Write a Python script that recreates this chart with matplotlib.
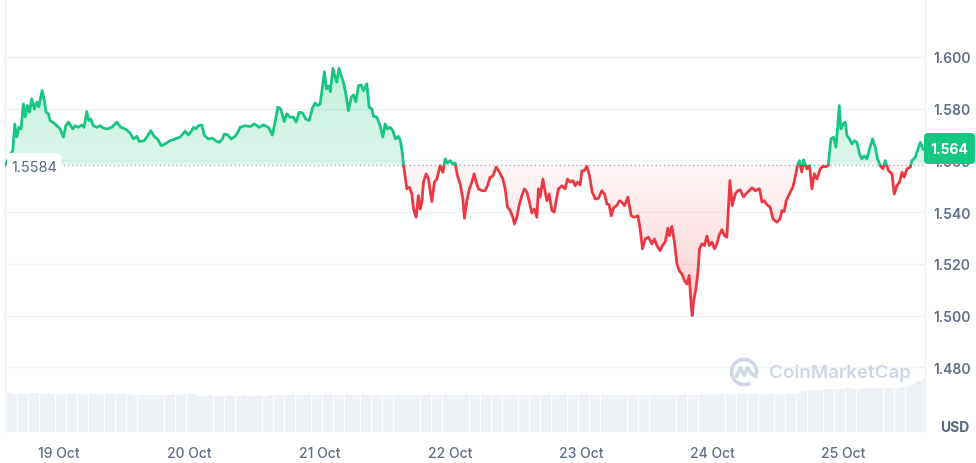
import matplotlib
import matplotlib.pyplot as plt
import numpy as np
from matplotlib.colors import to_rgb
from matplotlib.patches import Rectangle, FancyBboxPatch, Arc
from matplotlib.path import Path

plt.rcParams['font.family'] = ['Inter', 'DejaVu Sans']

# hours since 19 Oct 00:00
hours = [
    -9.79, -8.37, -8.01, -7.64, -7.22, -6.85, -6.43, -6.06, -5.69, -5.32,
    -4.88, -4.41, -3.97, -3.60, -2.99, -2.57, -2.26, -1.84, -1.52, -0.61,
    0.31, 0.92, 1.36, 1.84, 2.28, 2.64, 3.07, 3.67, 4.30, 4.72,
    5.21, 5.58, 5.95, 6.43, 7.05, 7.66, 8.39, 9.00, 9.81, 10.72,
    11.46, 12.25, 13.17, 13.77, 14.40, 14.87, 15.74, 16.23, 16.97, 17.57,
    18.18, 18.91, 19.59, 20.51, 21.43, 22.35, 23.26, 23.87, 24.49, 24.79,
    25.23, 25.71, 26.33, 26.81, 27.54, 28.28, 29.09, 29.56, 30.11, 30.48,
    31.11, 31.71, 32.45, 32.94, 33.36, 34.28, 35.20, 35.99, 36.85, 37.64,
    38.56, 39.29, 39.79, 40.29, 40.84, 41.44, 41.94, 42.54, 43.15, 43.65,
    44.20, 44.80, 45.43, 46.03, 46.64, 47.13, 47.63, 48.05, 48.48, 48.84,
    49.21, 49.58, 49.94, 50.39, 50.81, 51.12, 51.49, 51.91, 52.41, 52.77,
    53.25, 53.75, 54.17, 54.61, 55.09, 55.58, 56.00, 56.63, 57.05, 57.55,
    57.84, 58.46, 59.07, 59.57, 59.99, 60.41, 60.91, 61.40, 61.88, 62.38,
    62.74, 63.05, 63.35, 63.97, 64.45, 64.89, 65.19, 65.68, 66.10, 66.42,
    66.73, 67.02, 67.52, 67.94, 68.56, 69.04, 69.48, 70.09, 70.59, 71.01,
    71.43, 71.92, 72.42, 72.84, 73.26, 73.76, 74.26, 74.55, 74.99, 75.47,
    75.91, 76.33, 76.70, 77.12, 77.75, 78.35, 78.77, 79.27, 79.76, 80.37,
    80.98, 81.60, 82.02, 82.45, 82.94, 83.44, 83.73, 84.17, 84.65, 85.09,
    85.57, 86.01, 86.48, 86.92, 87.35, 87.84, 88.14, 88.45, 88.94, 89.37,
    89.68, 90.10, 90.60, 91.02, 91.39, 91.81, 92.43, 93.04, 93.46, 93.96,
    94.45, 94.88, 95.30, 95.79, 96.11, 96.53, 97.03, 97.50, 98.00, 98.55,
    99.16, 99.78, 100.26, 100.70, 101.12, 101.49, 101.91, 102.50, 103.01, 103.45,
    103.93, 104.55, 105.16, 105.76, 106.39, 106.81, 107.23, 107.73, 108.34, 108.96,
    109.44, 109.88, 110.48, 110.91, 111.40, 111.90, 112.19, 112.63, 113.11, 113.55,
    113.97, 114.47, 114.95, 115.39, 115.81, 116.18, 116.36, 116.60, 117.04, 117.41,
    117.70, 118.14, 118.62, 119.06, 119.48, 119.98, 120.46, 120.90, 121.32, 121.82,
    122.29, 122.73, 123.03, 123.28, 123.71, 124.26, 124.75, 125.17, 125.78, 126.40,
    127.32, 127.93, 128.72, 129.16, 129.58, 130.08, 130.68, 131.18, 131.91, 132.52,
    132.83, 133.25, 133.62, 134.36, 134.85, 135.27, 135.70, 136.06, 136.47, 136.80,
    137.39, 137.90, 138.34, 138.77, 139.26, 139.87, 140.36, 140.78, 141.33, 141.83,
    142.31, 142.75, 143.04, 143.35, 143.66, 144.03, 144.45, 144.77, 145.24, 145.68,
    146.16, 146.60, 147.08, 147.52, 147.94, 148.44, 148.92, 149.47, 149.96, 150.39,
    150.88, 151.38, 151.80, 152.41, 153.03, 153.46, 153.95, 154.43, 154.87, 155.29,
    155.79, 156.39, 156.70, 157.31, 157.62, 158.23, 158.73, 158.96,
]

prices = [
    1.5582, 1.5638, 1.5741, 1.5691, 1.5729, 1.5722, 1.5818, 1.5768, 1.5812, 1.5787,
    1.5838, 1.5799, 1.5826, 1.5807, 1.5870, 1.5831, 1.5787, 1.5780, 1.5754, 1.5741,
    1.5722, 1.5690, 1.5734, 1.5748, 1.5734, 1.5722, 1.5734, 1.5728, 1.5737, 1.5728,
    1.5789, 1.5754, 1.5760, 1.5734, 1.5728, 1.5734, 1.5724, 1.5722, 1.5728, 1.5748,
    1.5728, 1.5722, 1.5706, 1.5683, 1.5693, 1.5673, 1.5676, 1.5690, 1.5715, 1.5693,
    1.5683, 1.5657, 1.5664, 1.5676, 1.5683, 1.5690, 1.5713, 1.5698, 1.5715, 1.5728,
    1.5722, 1.5734, 1.5737, 1.5696, 1.5683, 1.5686, 1.5673, 1.5670, 1.5683, 1.5702,
    1.5698, 1.5683, 1.5693, 1.5709, 1.5728, 1.5734, 1.5731, 1.5741, 1.5728, 1.5737,
    1.5728, 1.5698, 1.5748, 1.5806, 1.5799, 1.5750, 1.5780, 1.5767, 1.5767, 1.5748,
    1.5786, 1.5784, 1.5760, 1.5754, 1.5802, 1.5822, 1.5812, 1.5818, 1.5883, 1.5943,
    1.5876, 1.5887, 1.5866, 1.5956, 1.5922, 1.5902, 1.5956, 1.5928, 1.5896, 1.5857,
    1.5792, 1.5844, 1.5853, 1.5827, 1.5889, 1.5892, 1.5870, 1.5896, 1.5806, 1.5799,
    1.5771, 1.5767, 1.5734, 1.5690, 1.5741, 1.5722, 1.5728, 1.5715, 1.5683, 1.5693,
    1.5680, 1.5644, 1.5586, 1.5490, 1.5496, 1.5470, 1.5412, 1.5380, 1.5464, 1.5412,
    1.5438, 1.5516, 1.5548, 1.5528, 1.5441, 1.5516, 1.5528, 1.5580, 1.5554, 1.5606,
    1.5590, 1.5599, 1.5586, 1.5590, 1.5541, 1.5509, 1.5451, 1.5376, 1.5444, 1.5490,
    1.5516, 1.5548, 1.5516, 1.5490, 1.5483, 1.5483, 1.5502, 1.5535, 1.5539, 1.5574,
    1.5554, 1.5528, 1.5490, 1.5419, 1.5406, 1.5380, 1.5354, 1.5380, 1.5432, 1.5464,
    1.5490, 1.5477, 1.5438, 1.5397, 1.5412, 1.5380, 1.5490, 1.5458, 1.5528, 1.5477,
    1.5444, 1.5470, 1.5406, 1.5400, 1.5444, 1.5490, 1.5502, 1.5490, 1.5528, 1.5516,
    1.5522, 1.5502, 1.5516, 1.5505, 1.5560, 1.5560, 1.5577, 1.5541, 1.5478, 1.5451,
    1.5454, 1.5483, 1.5470, 1.5432, 1.5428, 1.5386, 1.5416, 1.5425, 1.5444, 1.5438,
    1.5425, 1.5458, 1.5386, 1.5380, 1.5386, 1.5335, 1.5258, 1.5296, 1.5303, 1.5277,
    1.5296, 1.5271, 1.5251, 1.5271, 1.5284, 1.5338, 1.5309, 1.5345, 1.5284, 1.5200,
    1.5174, 1.5161, 1.5135, 1.5122, 1.5155, 1.5038, 1.5000, 1.5052, 1.5103, 1.5168,
    1.5258, 1.5277, 1.5271, 1.5307, 1.5271, 1.5284, 1.5258, 1.5277, 1.5312, 1.5332,
    1.5309, 1.5303, 1.5419, 1.5522, 1.5425, 1.5470, 1.5483, 1.5486, 1.5459, 1.5474,
    1.5494, 1.5483, 1.5490, 1.5439, 1.5444, 1.5428, 1.5419, 1.5374, 1.5361, 1.5376,
    1.5406, 1.5402, 1.5444, 1.5477, 1.5497, 1.5535, 1.5582, 1.5599, 1.5555, 1.5602,
    1.5567, 1.5580, 1.5490, 1.5548, 1.5528, 1.5567, 1.5578, 1.5575, 1.5580, 1.5683,
    1.5690, 1.5651, 1.5722, 1.5812, 1.5722, 1.5741, 1.5748, 1.5696, 1.5683, 1.5664,
    1.5676, 1.5670, 1.5625, 1.5606, 1.5618, 1.5606, 1.5644, 1.5683, 1.5651, 1.5606,
    1.5580, 1.5567, 1.5599, 1.5560, 1.5548, 1.5470, 1.5502, 1.5516, 1.5554, 1.5535,
    1.5567, 1.5574, 1.5599, 1.5612, 1.5632, 1.5670, 1.5644, 1.5641,
]

open_price = 1.5584
last_price = 1.564

# hourly volume (relative), hour -10 .. 159
vol_start_hour = -10
volumes = [
    38.5, 38.6, 38.4, 38.7, 38.5, 38.6, 38.8, 38.5, 38.6, 38.4,
    38.5, 38.3, 38.6, 38.4, 38.2, 38.5, 38.3, 38.1, 38.2, 38.0, 38.3, 38.1, 37.9, 38.0,
    37.2, 37.0, 37.1, 36.9, 37.0, 37.2, 36.9, 37.0, 37.1,
    38.0, 38.2, 37.9,
    36.5, 36.4, 36.6, 36.5, 36.3, 36.6, 36.4, 36.5, 36.7, 36.4, 36.5, 36.6, 36.4,
    37.2, 37.4, 37.1, 37.5, 37.3, 37.2, 37.4, 37.1, 37.3, 37.5, 37.2, 37.4, 37.3,
    37.1, 37.2, 37.4, 37.3, 37.2, 37.5, 37.3, 37.1, 37.2, 37.4, 37.3, 37.2,
    37.0, 37.1, 36.9, 37.2, 37.0, 36.8, 37.1, 37.0, 36.9, 37.2, 37.1, 37.0, 36.8, 37.0,
    37.1, 36.9, 37.0, 37.2, 37.1, 36.9, 37.0, 37.1, 37.3, 37.0, 36.9, 37.1, 37.2, 37.0,
    37.1, 37.0, 36.8, 37.0, 37.2, 37.1, 36.9, 37.0, 37.1, 37.2, 37.0, 36.9, 37.1, 37.0,
    37.2, 37.3, 37.1, 37.0, 37.2, 37.4, 37.3, 37.1, 37.2, 37.4, 37.5, 37.3, 37.4, 37.6,
    38.0, 38.1, 37.9, 38.2, 38.0, 38.1, 38.3, 38.0, 38.2, 38.1, 38.3, 38.2, 38.4, 38.2,
    38.5, 38.4, 38.6,
    41.3, 41.5, 41.6, 41.8,
    43.2, 43.4, 43.3, 43.5, 43.6, 43.4, 43.5, 43.7, 43.6, 43.8, 43.7, 43.9, 44.0, 44.2,
    44.8, 46.0, 48.0, 51.0, 54.0, 57.0, 60.0,
]

day_ticks = [0, 24, 48, 72, 96, 120, 144]
day_labels = ['19 Oct', '20 Oct', '21 Oct', '22 Oct', '23 Oct', '24 Oct', '25 Oct']
price_ticks = [1.48, 1.50, 1.52, 1.54, 1.56, 1.58, 1.60]

GREEN = '#16c784'
RED = '#ea3943'
TEXT = '#616e85'
GRID = '#eff2f5'

X_MIN, X_MAX = -9.8, 159.1
Y_MIN, Y_MAX = 1.4550, 1.6224
AX_RECT = [5 / 976, 31 / 464, 920 / 976, 433 / 464]


def gradient_fill(ax, x, y, base, color, above, a_near, a_far):
    x = np.asarray(x)
    y = np.asarray(y)
    where = y >= base if above else y <= base
    poly = ax.fill_between(x, y, base, where=where, interpolate=True,
                           facecolor='none', edgecolor='none')
    clip = Path.make_compound_path(*poly.get_paths())
    rgba = np.zeros((200, 1, 4))
    rgba[..., :3] = to_rgb(color)
    ramp = np.linspace(0, 1, 200)
    if above:
        rgba[:, 0, 3] = a_near + (a_far - a_near) * ramp
        extent = [x.min(), x.max(), base, y.max()]
    else:
        rgba[:, 0, 3] = a_far + (a_near - a_far) * ramp
        extent = [x.min(), x.max(), y.min(), base]
    im = ax.imshow(rgba, extent=extent, origin='lower', aspect='auto',
                   interpolation='bilinear', zorder=1)
    im.set_clip_path(clip, transform=ax.transData)


def draw_logo(fig):
    lax = fig.add_axes([728 / 976, 1 - 388 / 464, 32 / 976, 30 / 464])
    lax.set_xlim(-1.2, 1.2)
    lax.set_ylim(-1.2, 1.2)
    lax.set_aspect('equal')
    lax.axis('off')
    c = '#cfd6e4'
    lax.add_patch(Arc((0, 0), 2, 2, theta1=-10, theta2=300, lw=2.6, color=c))
    lax.plot([-0.6, -0.3, 0.0, 0.3, 0.55, 0.95], [-0.35, 0.35, -0.25, 0.35, -0.1, -0.35],
             color=c, lw=2.6, solid_joinstyle='round', solid_capstyle='round')


fig = plt.figure(figsize=(9.76, 4.64), dpi=100)

# volume behind the price
ax_vol = fig.add_axes(AX_RECT)
vol_hours = [vol_start_hour + i for i in range(len(volumes))]
ax_vol.bar(vol_hours, volumes, width=0.93, color='#eef1f5', linewidth=0)
ax_vol.set_xlim(X_MIN, X_MAX)
ax_vol.set_ylim(0, max(volumes) * 7.22)
ax_vol.axis('off')

ax = fig.add_axes(AX_RECT)
ax.patch.set_alpha(0)

gradient_fill(ax, hours, prices, open_price, GREEN, True, 0.14, 0.27)
gradient_fill(ax, hours, prices, open_price, RED, False, 0.04, 0.25)

ax.axhline(open_price, color='#a6b0c3', lw=1.0, ls=(0, (1, 2)), zorder=2)

up, = ax.plot(hours, prices, color=GREEN, lw=2.0, zorder=3, solid_joinstyle='round')
up.set_clip_path(Rectangle((X_MIN, open_price), X_MAX - X_MIN, 1, transform=ax.transData))
down, = ax.plot(hours, prices, color=RED, lw=2.0, zorder=3, solid_joinstyle='round')
down.set_clip_path(Rectangle((X_MIN, open_price - 1), X_MAX - X_MIN, 1, transform=ax.transData))

ax.set_xlim(X_MIN, X_MAX)
ax.set_ylim(Y_MIN, Y_MAX)

ax.set_yticks(price_ticks)
ax.set_yticklabels([f'{p:.3f}' for p in price_ticks])
ax.yaxis.tick_right()
ax.set_xticks(day_ticks)
ax.set_xticklabels(day_labels)
ax.tick_params(axis='y', length=0, pad=6, labelsize=10, labelcolor=TEXT)
ax.tick_params(axis='x', length=0, pad=10, labelsize=10, labelcolor=TEXT)
for lab in ax.get_yticklabels():
    lab.set_fontweight('semibold')
for lab in ax.get_xticklabels():
    lab.set_fontweight('medium')

ax.grid(axis='y', color=GRID, lw=1.0)
ax.set_axisbelow(True)
for side in ['top', 'bottom']:
    ax.spines[side].set_visible(False)
for side in ['left', 'right']:
    ax.spines[side].set_color(GRID)
    ax.spines[side].set_linewidth(1.0)

# open price label on the left
fig.patches.append(FancyBboxPatch((0.07, 4.64 - 1.82), 0.54, 0.28,
                                  boxstyle='round,pad=0,rounding_size=0.05',
                                  transform=fig.dpi_scale_trans, facecolor='white',
                                  edgecolor='none', zorder=5))
fig.text(0.34, 4.64 - 1.68, f'{open_price:.4f}', transform=fig.dpi_scale_trans,
         ha='center', va='center', fontsize=10.5, color='#58667e', zorder=6)

# last price tag on the right
fig.patches.append(FancyBboxPatch((9.24, 4.64 - 1.65), 0.51, 0.31,
                                  boxstyle='round,pad=0,rounding_size=0.04',
                                  transform=fig.dpi_scale_trans, facecolor=GREEN,
                                  edgecolor='none', zorder=5))
fig.text(9.495, 4.64 - 1.497, f'{last_price:.3f}', transform=fig.dpi_scale_trans,
         ha='center', va='center', fontsize=10, fontweight='bold', color='white', zorder=6)

fig.text(9.55, 4.64 - 4.28, 'USD', transform=fig.dpi_scale_trans,
         ha='center', va='center', fontsize=10, fontweight='bold', color='#58667e')

# watermark
fig.text(7.69, 4.64 - 3.735, 'CoinMarketCap', transform=fig.dpi_scale_trans,
         ha='left', va='center', fontsize=13.5, fontweight='semibold', color='#cfd6e4')
draw_logo(fig)

fig.savefig('out.png', dpi=100)
